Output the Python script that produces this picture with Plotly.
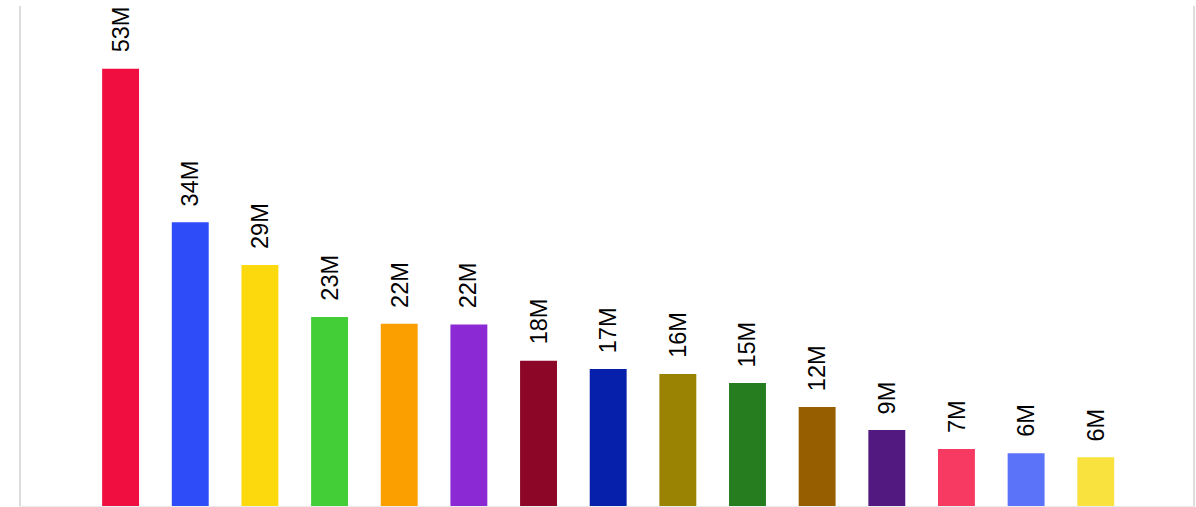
import plotly.graph_objects as go

categories = ["A", "B", "C", "D", "E", "F", "G", "H", "I", "J", "K", "L", "M", "N", "O"]
values_m = [53.0, 34.4, 29.2, 22.9, 22.1, 22.0, 17.6, 16.6, 16.0, 14.9, 12.0, 9.2, 6.9, 6.4, 5.9]
labels = ["53M", "34M", "29M", "23M", "22M", "22M", "18M", "17M", "16M", "15M", "12M", "9M", "7M", "6M", "6M"]
colors = ["#F00D3F", "#2E4DF9", "#FBD90C", "#43CD37", "#FB9E00", "#8B2AD4", "#8C0627",
          "#0620AB", "#9A8302", "#267D1F", "#975E00", "#521A80", "#F73A62", "#5A73F9", "#FAE23E"]

fig = go.Figure()
fig.add_trace(go.Bar(
    x=categories, y=values_m, marker=dict(color=colors, line=dict(width=0)),
    width=0.53, hoverinfo="skip",
))

for c, v, t in zip(categories, values_m, labels):
    fig.add_annotation(
        x=c, y=v, text=t, showarrow=False, textangle=-90,
        xanchor="center", yanchor="bottom", yshift=14,
        font=dict(family="Liberation Sans, Arial, sans-serif", size=23.5, color="#000"),
    )

fig.update_layout(
    width=1196, height=507,
    margin=dict(l=21, r=1, t=6, b=1),
    paper_bgcolor="white", plot_bgcolor="white",
    showlegend=False,
    xaxis=dict(range=[-1.43, 15.396], showticklabels=False, showgrid=False, zeroline=False,
               showline=True, linecolor="rgba(215,215,215,0.5)", linewidth=2, ticks=""),
    yaxis=dict(range=[0, 60.6], showticklabels=False, showgrid=False, zeroline=False,
               showline=True, mirror=True, linecolor="#dddddd", linewidth=2, ticks=""),
)

fig.write_html("out.html", config={"displayModeBar": False},
               post_script="document.body.style.margin='0';")
